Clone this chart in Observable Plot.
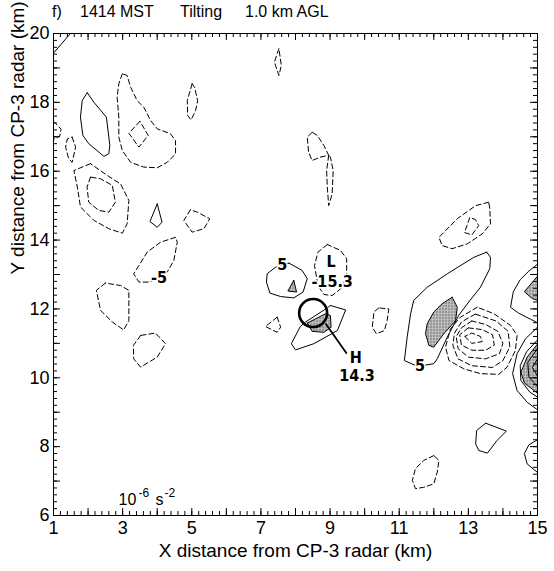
<!DOCTYPE html>
<html>
<head>
<meta charset="utf-8">
<script src="https://cdn.jsdelivr.net/npm/d3@7"></script>
<script src="https://cdn.jsdelivr.net/npm/@observablehq/plot@0.6"></script>
<style>
  body { margin: 0; background: #fff; }
  #title { position: relative; height: 22px; font: 16px "Liberation Sans", Arial, sans-serif; color: #000; }
  #title span { position: absolute; top: 3px; white-space: pre; }
</style>
</head>
<body>
<svg width="0" height="0" style="position:absolute">
  <defs>
    <pattern id="stipple" width="3" height="3" patternUnits="userSpaceOnUse">
      <rect width="3" height="3" fill="#d4d4d4"></rect>
      <circle cx="1.5" cy="1.5" r="0.95" fill="#555"></circle>
    </pattern>
  </defs>
</svg>
<div id="title">
  <span style="left:52px">f)</span>
  <span style="left:80px">1414 MST</span>
  <span style="left:180px">Tilting</span>
  <span style="left:245px">1.0 km AGL</span>
</div>
<div id="chart"></div>
<script>
// Tilting term at 1.0 km AGL, 1414 MST (units 1e-6 s^-2); contour interval 5.
// Each contour is a list of [x km, y km] vertices.

const xTicks = [1, 3, 5, 7, 9, 11, 13, 15];
const yTicks = [6, 8, 10, 12, 14, 16, 18, 20];

// ---- positive contours (+5), solid ----
const posCornerNW = [[1.49, 20.0], [1.0, 19.43]];
const posNW = [[1.975, 18.28], [1.83, 18.05], [1.78, 17.57], [1.85, 17.04], [2.02, 16.80], [2.46, 16.43], [2.60, 16.51], [2.63, 16.75], [2.53, 17.57], [2.17, 18.0]];
const posSmall4 = [[4.00, 15.05], [3.79, 14.54], [4.00, 14.37], [4.14, 14.52]];
const posNearL = [[7.81, 13.33], [8.19, 13.12], [8.34, 12.88], [8.22, 12.49], [7.95, 12.32], [7.57, 12.36], [7.26, 12.46], [7.16, 12.78], [7.18, 13.02], [7.42, 13.21]];
const posH = [[9.01, 12.10], [9.45, 11.97], [9.21, 11.37], [8.53, 10.99], [8.00, 10.81], [7.88, 10.99], [8.14, 11.49], [8.29, 11.62], [8.92, 12.03]];
const posBand = [[13.53, 13.65], [13.64, 13.50], [13.62, 13.17], [13.35, 12.63], [13.01, 12.20], [12.72, 11.81], [12.39, 11.18], [12.10, 10.55], [12.00, 10.41], [11.71, 10.36], [11.47, 10.36], [11.15, 10.50], [11.23, 11.18], [11.33, 11.86], [11.42, 12.25], [11.81, 12.63], [12.39, 13.02], [13.16, 13.50]];
const posSE = [[13.50, 8.68], [13.24, 8.47], [13.21, 8.08], [13.30, 7.89], [13.55, 7.81], [13.83, 8.18], [14.10, 8.45], [13.74, 8.59]];
const closedPos = [posNW, posSmall4, posNearL, posH, posBand, posSE];

// contours that run off the east and west edges
const posEdgeE1 = [[15, 13.3], [14.75, 13.1], [14.5, 12.85], [14.3, 12.5], [14.22, 12.05], [14.45, 11.88], [14.8, 11.7], [15, 11.6]];
const posEdgeE2 = [[15, 11.47], [14.65, 11.13], [14.41, 10.70], [14.28, 10.12], [14.41, 9.63], [14.70, 9.29], [15, 9.07]];
const posEdgeE3 = [[15, 11.1], [14.68, 10.75], [14.5, 10.35], [14.52, 9.92], [14.78, 9.58], [15, 9.44]];
const posEdgeE4 = [[15, 10.85], [14.72, 10.45], [14.75, 10.02], [15, 9.75]];
const posEdgeE5 = [[15, 10.55], [14.85, 10.3], [15, 10.05]];
const posEdgeE6 = [[15, 8.2], [14.75, 8.05], [14.62, 7.8], [14.7, 7.5], [15, 7.25]];
const openPos = [posCornerNW, posEdgeE1, posEdgeE2, posEdgeE3, posEdgeE4, posEdgeE5, posEdgeE6];

// ---- shaded areas (above +10) ----
const shadeNearL = [[7.95, 12.83], [7.78, 12.52], [8.03, 12.49]];
const shadeH = [[8.34, 11.59], [8.87, 11.86], [9.01, 11.81], [9.03, 11.47], [8.82, 11.32], [8.48, 11.35]];
const shadeBand = [[12.53, 12.34], [12.68, 12.05], [12.63, 11.66], [12.29, 11.28], [12.00, 10.89], [11.86, 10.94], [11.76, 11.28], [11.81, 11.57], [12.00, 11.91], [12.24, 12.15]];
const shadeE1 = [[15, 12.95], [14.62, 12.5], [14.85, 12.3], [15, 12.25]];
const shadeE2 = [[15, 10.98], [14.70, 10.6], [14.52, 10.16], [14.62, 9.85], [15, 9.55]];
const shaded = [shadeNearL, shadeH, shadeBand, shadeE1, shadeE2];

// ---- negative contours (-5 and below), dashed ----
const negEdgeW = [[1.0, 17.45], [1.22, 17.22], [1.18, 17.02], [1.0, 16.92]];
const negW1 = [[1.54, 16.99], [1.64, 16.70], [1.54, 16.26], [1.44, 16.36], [1.35, 16.70], [1.40, 16.94]];
const negN1 = [[2.99, 18.83], [2.89, 18.54], [2.84, 18.15], [2.89, 17.57], [2.89, 16.99], [2.99, 16.60], [3.23, 16.26], [3.61, 16.12], [4.00, 16.10], [4.29, 16.26], [4.53, 16.50], [4.53, 16.89], [4.38, 17.09], [4.00, 17.23], [3.81, 17.47], [3.61, 17.86], [3.42, 18.05], [3.23, 18.44], [3.13, 18.78]];
const negN1in = [[3.50, 17.45], [3.18, 17.10], [3.47, 16.70], [3.74, 17.04]];
const negN2 = [[5.01, 18.54], [4.87, 18.05], [4.88, 17.62], [4.98, 17.49], [5.11, 17.76], [5.17, 18.05], [5.08, 18.44]];
const negW2 = [[2.07, 16.22], [1.59, 16.02], [1.69, 15.54], [1.78, 14.96], [2.17, 14.57], [2.60, 14.33], [2.99, 14.20], [3.13, 14.47], [3.18, 15.15], [2.94, 15.63], [2.55, 15.88]];
const negW2in = [[2.07, 15.83], [1.97, 15.54], [2.02, 15.10], [2.31, 14.86], [2.60, 14.81], [2.79, 15.10], [2.70, 15.59], [2.36, 15.78]];
const negDiamond = [[4.96, 14.88], [4.77, 14.57], [5.01, 14.23], [5.35, 14.33], [5.52, 14.62], [5.16, 14.81]];
const negMinus5 = [[4.53, 14.08], [4.10, 13.94], [3.71, 13.65], [3.47, 13.26], [3.32, 13.02], [3.47, 12.78], [3.76, 12.78], [3.90, 12.83], [4.29, 13.07], [4.48, 13.41], [4.58, 13.94]];
const negW3 = [[2.50, 12.75], [2.24, 12.54], [2.36, 11.96], [2.70, 11.62], [3.03, 11.39], [3.18, 11.66], [3.18, 12.54], [2.94, 12.68]];
const negW4 = [[3.52, 11.23], [3.31, 10.94], [3.32, 10.55], [3.52, 10.31], [4.00, 10.60], [4.24, 10.99], [3.95, 11.30]];
const negTop = [[7.52, 19.56], [7.39, 19.17], [7.47, 18.93], [7.52, 18.78], [7.59, 19.07]];
const negC1 = [[8.48, 17.13], [8.34, 16.99], [8.38, 16.55], [8.48, 16.31], [8.72, 16.41], [8.96, 16.46], [8.82, 16.75], [8.63, 17.04]];
const negC2 = [[8.96, 16.46], [8.90, 16.02], [8.92, 15.54], [8.96, 15.00], [9.06, 15.34], [9.09, 16.02], [9.01, 16.41]];
const negL = [[8.92, 13.87], [8.65, 13.65], [8.55, 13.26], [8.65, 12.68], [8.82, 12.42], [9.06, 12.39], [9.30, 12.58], [9.48, 12.92], [9.48, 13.46], [9.30, 13.70]];
const negC3 = [[7.47, 11.76], [7.13, 11.49], [7.47, 11.32], [7.57, 11.47]];
const negC4 = [[10.41, 12.03], [10.27, 11.91], [10.22, 11.47], [10.34, 11.28], [10.57, 11.37], [10.65, 11.66], [10.70, 12.00]];
const negNE = [[13.59, 15.10], [13.21, 15.00], [12.68, 14.62], [12.15, 14.08], [12.24, 13.84], [12.53, 13.75], [12.97, 13.89], [13.40, 14.18], [13.64, 14.47], [13.62, 14.91]];
const negNEin = [[13.04, 14.65], [12.89, 14.22], [13.10, 14.15], [13.30, 14.42], [13.20, 14.60]];
const negLow1 = [[13.26, 12.05], [12.77, 11.76], [12.48, 11.42], [12.34, 10.89], [12.44, 10.50], [12.87, 10.26], [13.35, 10.12], [13.88, 10.10], [14.12, 10.31], [14.36, 10.79], [14.41, 11.23], [14.22, 11.52], [13.74, 11.86]];
const negLow2 = [[13.2, 11.85], [12.8, 11.62], [12.6, 11.3], [12.55, 10.95], [12.7, 10.55], [13.1, 10.35], [13.7, 10.3], [14.0, 10.5], [14.2, 10.9], [14.15, 11.35], [13.8, 11.65]];
const negLow3 = [[13.1, 11.65], [12.8, 11.45], [12.65, 11.2], [12.7, 10.85], [13.0, 10.6], [13.5, 10.55], [13.9, 10.7], [14.0, 11.0], [13.85, 11.35], [13.5, 11.55]];
const negLow4 = [[13.0, 11.45], [12.75, 11.25], [12.8, 10.95], [13.1, 10.8], [13.5, 10.8], [13.75, 10.95], [13.7, 11.25], [13.4, 11.4]];
const negLow5 = [[12.9, 11.2], [13.1, 11.0], [13.4, 11.05], [13.35, 11.2], [13.1, 11.3]];
const negS = [[12.00, 7.74], [11.71, 7.60], [11.47, 7.36], [11.38, 7.02], [11.47, 6.78], [11.71, 6.82], [12.00, 6.92], [12.10, 7.26], [12.15, 7.60]];
const closedNeg = [negW1, negN1, negN1in, negN2, negW2, negW2in, negDiamond, negMinus5, negW3, negW4, negTop, negC1, negC2, negL, negC3, negC4, negNE, negNEin, negLow1, negLow2, negLow3, negLow4, negLow5, negS];
const openNeg = [negEdgeW];

// ---- annotations ----
const circleCenter = [{x: 8.51, y: 11.88}];
const pointer = [[8.88, 11.56], [9.47, 10.72]];
const labelText = ["5", "L", "-15.3", "H", "14.3", "-5", "5"];
const labelX = [7.62, 9.03, 9.06, 9.74, 9.78, 4.05, 11.60];
const labelY = [13.29, 13.37, 12.79, 10.58, 10.05, 12.90, 10.36];
const unitParts = ["10", "-6", "s", "-2"];
const unitX = 2.88, unitY = 6.45;

const xMinor = d3.range(1, 15.0001, 0.2).map(v => +v.toFixed(1));
const yMinor = d3.range(6, 20.0001, 0.2).map(v => +v.toFixed(1));
const xMajor = d3.range(1, 16, 1);
const yMajor = d3.range(6, 21, 1);

function toRows(list, closed) {
  return list.flatMap((pts, i) => {
    const ring = closed ? [...pts, pts[0]] : pts;
    return ring.map(([x, y]) => ({id: i, x, y}));
  });
}

const solidRows = [...toRows(closedPos, true), ...toRows(openPos, false).map(d => ({...d, id: "o" + d.id}))];
const dashedRows = [...toRows(closedNeg, true), ...toRows(openNeg, false).map(d => ({...d, id: "o" + d.id}))];
const shadeRows = toRows(shaded, true);
const pointerRows = pointer.map(([x, y]) => ({x, y}));
const labels = labelText.map((t, i) => ({t, x: labelX[i], y: labelY[i]}));

const FONT = '"Liberation Sans", Arial, Helvetica, sans-serif';
const BOLD = '"Liberation Sans Narrow", "DejaVu Sans Condensed", "Liberation Sans", sans-serif';
const innerH = 482, innerW = 484;

const chart = Plot.plot({
  width: 554,
  height: 549,
  marginLeft: 53,
  marginRight: 17,
  marginTop: 11,
  marginBottom: 56,
  x: {domain: [1, 15]},
  y: {domain: [6, 20]},
  style: {fontFamily: FONT, fontSize: "17px", color: "#000", background: "#fff", overflow: "visible"},
  marks: [
    Plot.line(shadeRows, {x: "x", y: "y", z: "id", fill: "url(#stipple)", stroke: "#000", strokeWidth: 1, clip: true}),
    Plot.line(solidRows, {x: "x", y: "y", z: "id", stroke: "#000", strokeWidth: 1, clip: true}),
    Plot.line(dashedRows, {x: "x", y: "y", z: "id", stroke: "#000", strokeWidth: 1, strokeDasharray: "5,3", clip: true}),
    Plot.dot(circleCenter, {x: "x", y: "y", r: 14, stroke: "#000", strokeWidth: 2.6, fill: "none"}),
    Plot.line(pointerRows, {x: "x", y: "y", stroke: "#000", strokeWidth: 1.8}),
    Plot.text(labels, {x: "x", y: "y", text: "t", fontFamily: BOLD, fontWeight: "bold", fontSize: 16, fill: "#000", stroke: "#fff", strokeWidth: 3}),
    // units annotation: base text with raised exponents
    Plot.text([unitParts[0]], {x: () => unitX, y: () => unitY, text: d => d, textAnchor: "start", fontSize: 16}),
    Plot.text([unitParts[1]], {x: () => unitX, y: () => unitY, text: d => d, textAnchor: "start", fontSize: 12, dx: 20, dy: -7}),
    Plot.text([unitParts[2]], {x: () => unitX, y: () => unitY, text: d => d, textAnchor: "start", fontSize: 16, dx: 37}),
    Plot.text([unitParts[3]], {x: () => unitX, y: () => unitY, text: d => d, textAnchor: "start", fontSize: 12, dx: 46, dy: -7}),
    Plot.frame({stroke: "#000", strokeWidth: 1}),
    // inward ticks on all four sides
    Plot.ruleX(xMinor, {insetTop: innerH - 4, stroke: "#000"}),
    Plot.ruleX(xMinor, {insetBottom: innerH - 4, stroke: "#000"}),
    Plot.ruleY(yMinor, {insetRight: innerW - 4, stroke: "#000"}),
    Plot.ruleY(yMinor, {insetLeft: innerW - 4, stroke: "#000"}),
    Plot.ruleX(xMajor, {insetTop: innerH - 7, stroke: "#000"}),
    Plot.ruleX(xMajor, {insetBottom: innerH - 7, stroke: "#000"}),
    Plot.ruleY(yMajor, {insetRight: innerW - 7, stroke: "#000"}),
    Plot.ruleY(yMajor, {insetLeft: innerW - 7, stroke: "#000"}),
    Plot.axisX({ticks: xTicks, tickSize: 0, tickPadding: 6, tickFormat: d3.format("d"), label: null, fontSize: 18}),
    Plot.axisY({ticks: yTicks, tickSize: 0, tickPadding: 4, tickFormat: d3.format("d"), label: null, fontSize: 18}),
    Plot.text(["X distance from CP-3 radar (km)"], {frameAnchor: "bottom", dy: 41, text: d => d, fontSize: 19}),
    Plot.text(["Y distance from CP-3 radar (km)"], {frameAnchor: "left", dx: -36, rotate: -90, text: d => d, fontSize: 19})
  ]
});
document.getElementById("chart").append(chart);
</script>
</body>
</html>
